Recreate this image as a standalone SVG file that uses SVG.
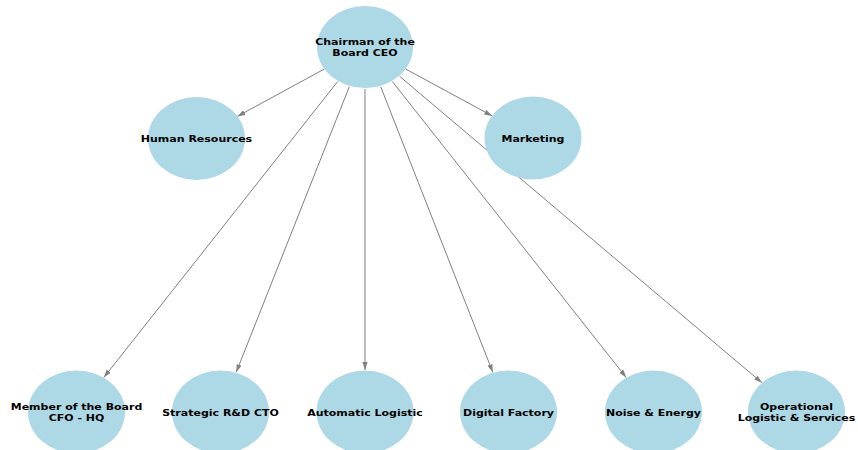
<svg xmlns="http://www.w3.org/2000/svg" width="858" height="450" viewBox="0 0 858 450">
  <style>
    .node ellipse { fill: #ADD8E6; }
    .node text { font-family: "DejaVu Sans", "Liberation Sans", sans-serif; font-weight: bold; font-size: 11px; fill: #000; text-anchor: middle; }
    .edges line { stroke: #808080; stroke-width: 1; marker-end: url(#arrow); }
  </style>
  <defs>
    <marker id="arrow" markerUnits="userSpaceOnUse" markerWidth="9" markerHeight="7" refX="8" refY="3" orient="auto">
      <path d="M0,0.4 L8,3 L0,5.6 Z" fill="#808080"/>
    </marker>
  </defs>
  <rect width="858" height="450" fill="#ffffff"/>

  <!-- connectors: CEO to each unit -->
  <g id="edges" class="edges">
    <line x1="324.2" y1="69.1" x2="237.3" y2="116.4"/>
    <line x1="405.8" y1="69.1" x2="492.2" y2="115.9"/>
    <line x1="337.7" y1="81.5" x2="103.8" y2="377.5"/>
    <line x1="349.3" y1="86.7" x2="236.2" y2="372.3"/>
    <line x1="365" y1="89" x2="365" y2="370"/>
    <line x1="380.7" y1="86.7" x2="492.8" y2="372.3"/>
    <line x1="392.3" y1="81.5" x2="626.2" y2="377.5"/>
    <line x1="399.5" y1="76.2" x2="762" y2="382.8"/>
  </g>

  <!-- labels are drawn slightly condensed vertically (scale 0.86) -->
  <g id="ceo" class="node">
    <ellipse cx="365" cy="47" rx="48" ry="41"/>
    <text transform="translate(365,45) scale(1,0.86)">Chairman of the</text>
    <text transform="translate(365,56) scale(1,0.86)">Board CEO</text>
  </g>
  <g id="human-resources" class="node">
    <ellipse cx="196.5" cy="138.5" rx="48.5" ry="41.5"/>
    <text transform="translate(196.5,142) scale(1,0.86)">Human Resources</text>
  </g>
  <g id="marketing" class="node">
    <ellipse cx="533" cy="138" rx="48.5" ry="41.5"/>
    <text transform="translate(533,142) scale(1,0.86)">Marketing</text>
  </g>
  <g id="cfo" class="node">
    <ellipse cx="76.5" cy="412" rx="48.5" ry="41.5"/>
    <text transform="translate(76.5,410) scale(1,0.86)">Member of the Board</text>
    <text transform="translate(76.5,421) scale(1,0.86)">CFO - HQ</text>
  </g>
  <g id="rd-cto" class="node">
    <ellipse cx="220.5" cy="412" rx="48.5" ry="41.5"/>
    <text transform="translate(220.5,416) scale(1,0.86)">Strategic R&amp;D CTO</text>
  </g>
  <g id="automatic-logistic" class="node">
    <ellipse cx="365" cy="412" rx="48.5" ry="41.5"/>
    <text transform="translate(365,416) scale(1,0.86)">Automatic Logistic</text>
  </g>
  <g id="digital-factory" class="node">
    <ellipse cx="508.5" cy="412" rx="48.5" ry="41.5"/>
    <text transform="translate(508.5,416) scale(1,0.86)">Digital Factory</text>
  </g>
  <g id="noise-energy" class="node">
    <ellipse cx="653.5" cy="412" rx="48.5" ry="41.5"/>
    <text transform="translate(653.5,416) scale(1,0.86)">Noise &amp; Energy</text>
  </g>
  <g id="operational-logistic" class="node">
    <ellipse cx="796.5" cy="412" rx="48.5" ry="41.5"/>
    <text transform="translate(796.5,410) scale(1,0.86)">Operational</text>
    <text transform="translate(796.5,421) scale(1,0.86)">Logistic &amp; Services</text>
  </g>
</svg>
